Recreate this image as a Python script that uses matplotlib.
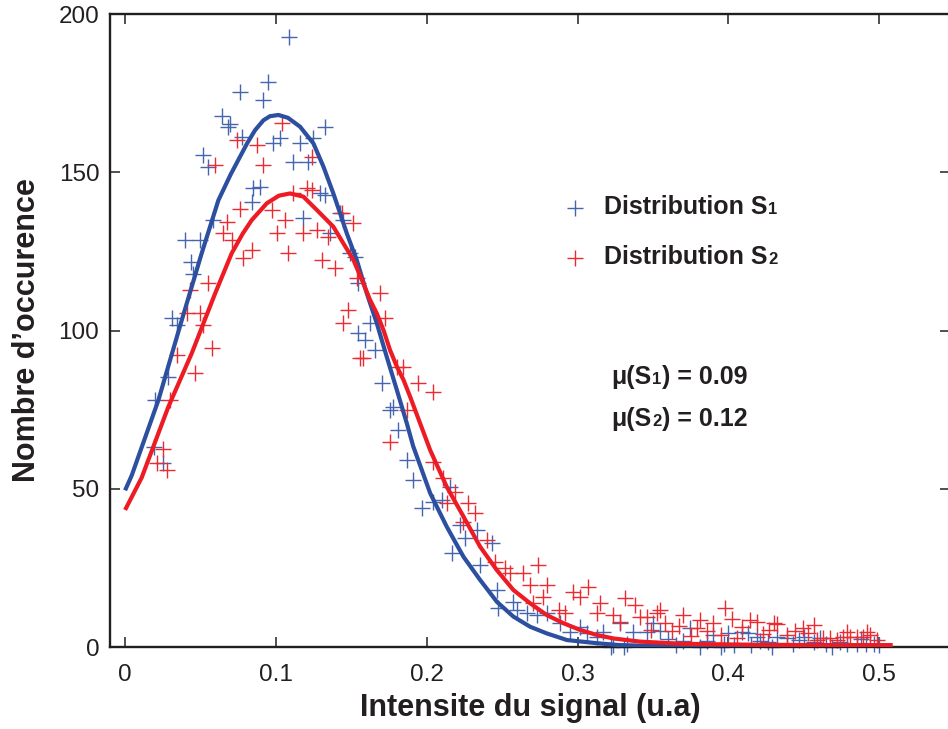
import matplotlib
matplotlib.use("Agg")
import matplotlib.pyplot as plt

plt.rcParams["font.family"] = ["Liberation Sans", "DejaVu Sans"]

# ---- data -------------------------------------------------------------
# histogram counts, sample S1
s1_x = [0.0763, 0.0645, 0.0696, 0.0680, 0.0774, 0.0520, 0.0548, 0.0398, 0.0497, 0.0586,
        0.0438, 0.0453, 0.0314, 0.0343, 0.0287, 0.0199, 0.0194, 0.0254, 0.0850,
        0.1090, 0.0950, 0.0917, 0.1326, 0.1028, 0.0983, 0.1160, 0.1249, 0.1116, 0.1216,
        0.0895, 0.0840, 0.1293, 0.1326, 0.1182, 0.1426, 0.1448, 0.1359, 0.1492, 0.1525,
        0.1547, 0.1625, 0.1547, 0.1592, 0.1658, 0.1702, 0.1757, 0.1779, 0.1812, 0.1868,
        0.1912, 0.1967, 0.2045, 0.2100, 0.2155, 0.2166, 0.2221, 0.2255, 0.2332, 0.2354,
        0.2432, 0.2465, 0.2476, 0.2575, 0.2597, 0.2664, 0.2730, 0.2796, 0.2885, 0.2951,
        0.3017, 0.3062, 0.3128, 0.3172, 0.3238, 0.3283, 0.3330, 0.3371, 0.3460, 0.3500,
        0.3220, 0.3310,
        0.3548, 0.3747, 0.3901, 0.4000, 0.4089, 0.4133, 0.4189, 0.4322, 0.4388, 0.4499,
        0.3700, 0.3860, 0.3970, 0.4040, 0.4260, 0.4430, 0.4650, 0.4740, 0.4790, 0.4850,
        0.4910, 0.4963, 0.4565, 0.3810, 0.3950, 0.4150,
        0.3600, 0.3650, 0.4210, 0.4290, 0.4470, 0.4610, 0.4690, 0.4880, 0.5000]
s1_y = [175.4, 167.8, 165.2, 164.2, 161.2, 155.5, 151.8, 128.6, 128.6, 134.9,
        121.7, 118.0, 103.8, 101.7, 85.4, 78.0, 63.3, 58.0, 145.0,
        192.6, 178.6, 172.8, 164.4, 160.7, 159.1, 159.1, 160.7, 153.3, 153.3,
        145.4, 140.7, 143.3, 142.8, 135.4, 137.0, 134.9, 130.7, 124.4, 123.3,
        114.9, 102.3, 99.1, 97.0, 93.8, 83.3, 74.9, 75.9, 68.6, 59.1,
        52.8, 43.8, 45.9, 46.4, 50.6, 29.6, 38.5, 34.3, 37.0, 25.9,
        32.8, 18.0, 12.2, 14.3, 11.7, 10.6, 10.1, 10.6, 7.5, 4.8,
        6.4, 4.3, 3.3, 4.8, 0.6, 7.5, 1.0, 4.8, 4.8, 7.5,
        0.0, 0.0,
        5.0, 5.9, 3.8, 4.3, 4.8, 4.3, 3.3, 3.3, 2.7, 3.3,
        2.0, 2.0, 1.0, 0.5, 1.5, 1.0, 1.0, 1.5, 1.0, 1.0,
        1.0, 1.0, 1.5, 0.0, 0.0, 0.5,
        2.5, 0.5, 2.0, 0.0, 2.2, 3.0, 0.0, 2.5, 0.5]

# histogram counts, sample S2
s2_x = [0.0740, 0.0597, 0.0763, 0.0674, 0.0652, 0.0707, 0.0840, 0.0785, 0.0553, 0.0431,
        0.0497, 0.0409, 0.0520, 0.0575, 0.0343, 0.0464, 0.0298, 0.0254, 0.0210, 0.0276,
        0.1039, 0.0873, 0.0917, 0.1238, 0.1116, 0.1205, 0.1238, 0.0973, 0.1061, 0.1006,
        0.1182, 0.1271, 0.1348, 0.1083, 0.1304, 0.1393, 0.1437, 0.1514, 0.1536, 0.1691,
        0.1481, 0.1448, 0.1724, 0.1580, 0.1558, 0.1802, 0.1846, 0.1757, 0.1868, 0.1943,
        0.2043,
        0.2045, 0.2111, 0.2188, 0.2133, 0.2277, 0.2321, 0.2244, 0.2398, 0.2454, 0.2520,
        0.2553, 0.2641, 0.2741, 0.2686, 0.2796, 0.2774, 0.2708, 0.2874, 0.2920, 0.2973,
        0.3017, 0.3072, 0.3150, 0.3128, 0.3238, 0.3316, 0.3382, 0.3280, 0.3415, 0.3460,
        0.3530,
        0.3548, 0.3979, 0.3702, 0.3813, 0.4023, 0.3901, 0.4145, 0.4190, 0.4089, 0.4300,
        0.4322, 0.4565, 0.4498, 0.4440, 0.4388, 0.3670, 0.3625, 0.3490, 0.3750, 0.3950,
        0.3860, 0.4230, 0.4630, 0.4675, 0.4763, 0.4810, 0.4852, 0.4896, 0.4940, 0.4785,
        0.4918, 0.4719, 0.4985, 0.4587,
        0.3580, 0.3790, 0.4060, 0.4270, 0.4530]
s2_y = [160.2, 152.3, 138.3, 134.4, 130.7, 128.6, 125.4, 122.8, 114.9, 112.8,
        105.4, 105.4, 101.7, 94.4, 92.3, 86.5, 78.0, 62.7, 58.0, 55.9,
        165.5, 158.6, 152.3, 154.9, 143.3, 144.9, 144.4, 138.1, 134.9, 130.7,
        130.7, 131.8, 129.6, 124.4, 122.3, 119.7, 137.0, 133.9, 116.5, 111.7,
        106.5, 102.3, 103.8, 91.2, 91.2, 88.6, 88.6, 64.9, 74.9, 83.4,
        80.6,
        58.5, 53.3, 49.1, 45.4, 45.4, 42.2, 39.6, 33.8, 27.0, 24.9,
        23.3, 23.3, 25.9, 19.6, 19.6, 15.9, 13.8, 11.7, 10.6, 17.5,
        15.9, 19.1, 13.8, 10.6, 10.1, 15.4, 13.3, 8.0, 9.6, 9.6,
        10.6,
        11.7, 12.2, 10.1, 8.5, 9.0, 7.5, 8.5, 8.0, 6.4, 7.5,
        7.2, 6.9, 5.9, 5.0, 3.8, 6.5, 5.0, 5.5, 3.5, 3.8,
        5.0, 4.0, 2.7, 2.7, 3.3, 3.3, 3.3, 3.3, 3.8, 4.8,
        4.8, 2.2, 2.2, 2.2,
        7.5, 6.0, 3.0, 5.5, 4.5]

# fitted distribution curves
fit1_x = [0.0, 0.0044, 0.0221, 0.0376, 0.0508, 0.0619, 0.0700, 0.0751, 0.0810, 0.0862,
          0.0917, 0.0960, 0.1017, 0.1080, 0.1160, 0.1249, 0.1315, 0.1381, 0.1426, 0.1470,
          0.1536, 0.1603, 0.1669, 0.1735, 0.1802, 0.1868, 0.1910, 0.2023, 0.2133, 0.2244,
          0.2354, 0.2465, 0.2575, 0.2686, 0.2796, 0.2930, 0.3128, 0.3280, 0.3500, 0.4000,
          0.4500, 0.5000]
fit1_y = [49.5, 54.2, 78.0, 103.3, 124.4, 141.2, 149.3, 153.9, 159.2, 163.3,
          166.4, 167.7, 168.1, 167.2, 164.4, 159.1, 151.8, 143.3, 137.0, 130.7,
          122.3, 111.7, 102.3, 91.7, 81.2, 70.7, 63.5, 48.6, 38.0, 28.5,
          21.2, 14.3, 9.6, 6.4, 4.3, 2.2, 1.2, 0.6, 0.3, 0.2,
          0.2, 0.2]

fit2_x = [0.0, 0.0110, 0.0287, 0.0442, 0.0597, 0.0707, 0.0780, 0.0840, 0.0940, 0.1020,
          0.1094, 0.1182, 0.1271, 0.1381, 0.1448, 0.1514, 0.1570, 0.1625, 0.1669, 0.1713,
          0.1757, 0.1802, 0.1846, 0.1890, 0.2023, 0.2133, 0.2244, 0.2354, 0.2465, 0.2575,
          0.2686, 0.2796, 0.2907, 0.3017, 0.3128, 0.3238, 0.3415, 0.3700, 0.4200, 0.4700,
          0.5090]
fit2_y = [43.3, 53.5, 75.9, 92.8, 111.7, 124.4, 130.6, 134.9, 140.2, 142.6,
          143.3, 142.3, 138.1, 132.8, 127.5, 122.3, 116.0, 109.6, 105.4, 100.2,
          93.8, 88.6, 84.4, 79.1, 62.2, 50.6, 41.2, 31.7, 24.3, 18.0,
          13.8, 10.1, 7.5, 5.4, 3.8, 2.7, 1.7, 1.0, 0.7, 0.6,
          0.6]

x_ticks = [0.0, 0.1, 0.2, 0.3, 0.4, 0.5]
x_tick_labels = ["0", "0.1", "0.2", "0.3", "0.4", "0.5"]
y_ticks = [0, 50, 100, 150, 200]

# ---- figure -----------------------------------------------------------
INK = "#231f20"
BLUE_PT, RED_PT = "#4565ae", "#ec2a32"
BLUE_LN, RED_LN = "#2d4f9f", "#ed1c24"

fig = plt.figure(figsize=(9.48, 7.29), dpi=100)
ax = fig.add_axes([0.11603, 0.11248, 0.8861, 0.86831])

ax.plot(s1_x, s1_y, linestyle="none", marker="+", ms=12, mew=1.0,
        color=BLUE_PT, clip_on=False, zorder=2)
ax.plot(s2_x, s2_y, linestyle="none", marker="+", ms=12, mew=1.0,
        color=RED_PT, clip_on=False, zorder=2.1)
ax.plot(fit1_x, fit1_y, color=BLUE_LN, lw=3.0, solid_joinstyle="round",
        solid_capstyle="butt", zorder=3)
ax.plot(fit2_x, fit2_y, color=RED_LN, lw=3.0, solid_joinstyle="round",
        solid_capstyle="butt", zorder=4)

ax.set_xlim(-0.01, 0.547)
ax.set_ylim(0, 200)
ax.set_xticks(x_ticks)
ax.set_xticklabels(x_tick_labels)
ax.set_yticks(y_ticks)

for s in ax.spines.values():
    s.set_linewidth(1.7)
    s.set_color(INK)
ax.tick_params(direction="in", length=7, width=1.1, color=INK,
               top=True, right=True, labelsize=17.5, labelcolor=INK)
ax.tick_params(axis="x", pad=12)
ax.tick_params(axis="y", pad=7.7)

ax.set_xlabel("Intensite du signal (u.a)", fontsize=22, fontweight="bold",
              color=INK, labelpad=5)
ax.set_ylabel("Nombre d\u2019occurence", fontsize=22, fontweight="bold",
              color=INK, labelpad=12)


def small_index_text(x, y, head, digit, tail="", size=18, small=12):
    """Write head + smaller baseline-aligned digit + tail in axes coords."""
    t1 = ax.text(x, y, head, transform=ax.transAxes, fontsize=size,
                 fontweight="bold", color=INK, va="baseline", ha="left")
    t2 = ax.annotate(digit, xy=(1, y), xycoords=(t1, "axes fraction"),
                     xytext=(0.6, 0), textcoords="offset points",
                     fontsize=small, fontweight="bold", color=INK,
                     va="baseline", ha="left")
    if tail:
        ax.annotate(tail, xy=(1, y), xycoords=(t2, "axes fraction"),
                    xytext=(0.3, 0), textcoords="offset points",
                    fontsize=size, fontweight="bold", color=INK,
                    va="baseline", ha="left")


# key
ax.plot([0.5536], [0.6942], transform=ax.transAxes, marker="+", ms=12,
        mew=1.0, color=BLUE_PT, linestyle="none")
ax.plot([0.5536], [0.6152], transform=ax.transAxes, marker="+", ms=12,
        mew=1.0, color=RED_PT, linestyle="none")
small_index_text(0.5881, 0.6835, "Distribution S", "1")
small_index_text(0.5881, 0.6045, "Distribution S", "2")

# means
small_index_text(0.5964, 0.4155, "\u03bc(S", "1", ") = 0.09")
small_index_text(0.5964, 0.3496, "\u03bc(S", "2", ") = 0.12")

fig.savefig("out.png", dpi=100)
